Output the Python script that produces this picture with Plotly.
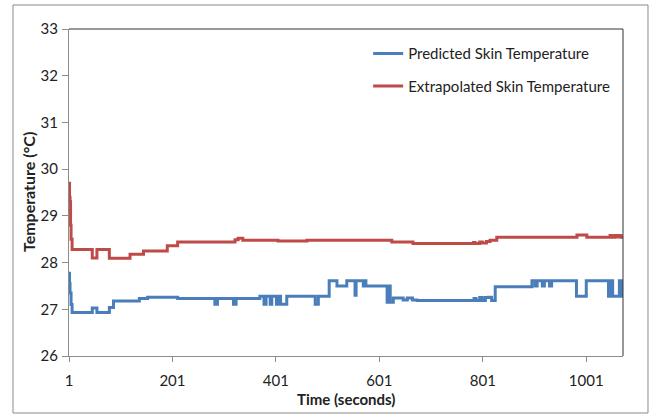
import plotly.graph_objects as go

# Change points of each step series: (time in seconds, temperature in °C)
pred_t = [1, 2, 3, 5, 7, 46, 55, 79, 87, 137, 153, 211, 283, 288, 319, 324,
          370, 378, 382, 390, 393, 402, 405, 410, 422, 477, 483, 504, 519, 538,
          554, 556, 570, 573, 575, 616, 620, 622, 628, 647, 655, 665, 674, 784,
          788, 795, 800, 806, 812, 818, 825, 896, 902, 906, 916, 920, 930, 934,
          982, 1001, 1044, 1046, 1048, 1050, 1052, 1065, 1067, 1069, 1071, 1072]
pred_v = [27.77, 27.55, 27.35, 27.10, 26.93, 27.03, 26.93, 27.04, 27.18, 27.23,
          27.26, 27.23, 27.11, 27.23, 27.11, 27.23, 27.28, 27.11, 27.28, 27.11,
          27.28, 27.11, 27.28, 27.11, 27.28, 27.11, 27.28, 27.61, 27.50, 27.61,
          27.30, 27.61, 27.50, 27.61, 27.50, 27.15, 27.50, 27.15, 27.24, 27.20,
          27.24, 27.20, 27.19, 27.23, 27.19, 27.25, 27.19, 27.25, 27.26, 27.19,
          27.48, 27.61, 27.50, 27.61, 27.50, 27.61, 27.50, 27.61, 27.28, 27.61,
          27.28, 27.61, 27.28, 27.61, 27.28, 27.61, 27.28, 27.61, 27.45, 27.45]

extra_t = [1, 2, 3, 4, 5, 7, 46, 55, 79, 119, 145, 191, 211, 322, 328, 337,
           405, 461, 625, 666, 783, 786, 795, 800, 808, 815, 828, 983, 1002,
           1047, 1050, 1056, 1060, 1064, 1068, 1072]
extra_v = [29.70, 29.40, 29.30, 28.80, 28.50, 28.28, 28.10, 28.28, 28.09, 28.18,
           28.25, 28.36, 28.44, 28.49, 28.52, 28.48, 28.46, 28.48, 28.44, 28.41,
           28.43, 28.41, 28.44, 28.42, 28.45, 28.48, 28.54, 28.59, 28.54, 28.58,
           28.54, 28.58, 28.55, 28.58, 28.54, 28.52]

x_ticks = [1, 201, 401, 601, 801, 1001]
y_ticks = [26, 27, 28, 29, 30, 31, 32, 33]

FONT = "Lato, Liberation Sans, Arial, sans-serif"
AXIS_GREY = "#8c8c8c"

fig = go.Figure()
fig.add_trace(go.Scatter(x=pred_t, y=pred_v, mode="lines", line_shape="hv",
                         name="Predicted Skin Temperature", legendgroup="p",
                         line=dict(color="#4A7EBB", width=3)))
fig.add_trace(go.Scatter(x=extra_t, y=extra_v, mode="lines", line_shape="hv",
                         name="Extrapolated Skin Temperature", legendgroup="e",
                         line=dict(color="#BE4B48", width=3)))

fig.update_layout(
    width=655, height=416,
    margin=dict(l=69, r=32, t=29, b=60),
    paper_bgcolor="white", plot_bgcolor="white",
    font=dict(family=FONT, size=15, color="#222"),
    showlegend=True,
    legend=dict(x=0.54, y=0.975, xanchor="left", yanchor="top",
                bgcolor="rgba(0,0,0,0)", font=dict(size=15),
                itemwidth=30, tracegroupgap=10),
    xaxis=dict(range=[1, 1072], tickvals=x_ticks, ticktext=[str(v) for v in x_ticks],
               showgrid=False, zeroline=False, showline=True, linecolor=AXIS_GREY,
               linewidth=1, ticks="outside", ticklen=5, tickcolor=AXIS_GREY,
               ticklabelstandoff=6, tickfont=dict(size=15)),
    yaxis=dict(range=[26, 33], tickvals=y_ticks, showgrid=False, zeroline=False,
               showline=True, linecolor=AXIS_GREY, linewidth=1, ticks="outside",
               ticklen=6, tickcolor=AXIS_GREY, ticklabelstandoff=1,
               tickfont=dict(size=15)),
    shapes=[
        # plot-area frame on top and right
        dict(type="line", xref="paper", yref="paper", x0=0, x1=1, y0=1, y1=1,
             line=dict(color="#333", width=1)),
        dict(type="line", xref="paper", yref="paper", x0=1, x1=1, y0=0, y1=1,
             line=dict(color="#333", width=1)),
        # outer chart border
        dict(type="rect", xref="paper", yref="paper",
             x0=-0.1011, x1=1.0451, y0=-0.1743, y1=1.0734,
             line=dict(color="#8a8a8a", width=1)),
    ],
    annotations=[
        dict(text="<b>Time (seconds)</b>", xref="paper", yref="paper",
             x=0.5, y=(356 - 399) / 327, showarrow=False,
             xanchor="center", yanchor="middle", font=dict(size=15)),
        dict(text="<b>Temperature (°C)</b>", xref="paper", yref="paper",
             x=(28 - 69) / 554, y=(356 - 192) / 327, showarrow=False,
             textangle=-90, xanchor="center", yanchor="middle", font=dict(size=16)),
    ],
)

fig.write_html("out.html")
